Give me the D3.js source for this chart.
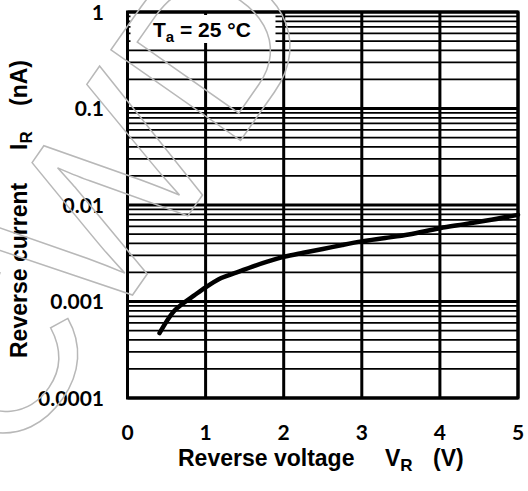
<!DOCTYPE html>
<html><head><meta charset="utf-8">
<script src="https://cdn.jsdelivr.net/npm/d3@7"></script>
<style>body{margin:0;background:#fff}svg{display:block}</style>
</head><body><svg id="c" width="528" height="491"></svg>
<script>
const voltage = [0.41, 0.5, 0.6, 0.7, 0.85, 1.0, 1.2, 1.4, 1.6, 1.8, 2.0, 2.25, 2.5, 2.75, 3.0, 3.3, 3.6, 4.0, 4.3, 4.6, 5.0];
const current = [0.00047, 0.00062, 0.00080, 0.00094, 0.00115, 0.00140, 0.00175, 0.00200, 0.00230, 0.00260, 0.00290, 0.00320, 0.00350, 0.00385, 0.00420, 0.00455, 0.00495, 0.00575, 0.00630, 0.00690, 0.00790];
const xTicks = [0, 1, 2, 3, 4, 5];
const yTicks = [0.0001, 0.001, 0.01, 0.1, 1];
const yTickLabels = ["0.0001", "0.001", "0.01", "0.1", "1"];

const svg = d3.select("#c");
const L = 127.5, R = 518, T = 12, B = 398;
const x = d3.scaleLinear().domain([0, 5]).range([L, R]);
const y = d3.scaleLog().domain([1e-4, 1]).range([B, T]);

// minor grid
const minors = [];
for (let d = -4; d < 0; d++) for (let k = 2; k <= 9; k++) minors.push(k * Math.pow(10, d));
const g = svg.append("g");
g.selectAll("line.minor").data(minors).join("line")
  .attr("x1", L).attr("x2", R).attr("y1", d => y(d)).attr("y2", d => y(d))
  .attr("stroke", "#000").attr("stroke-width", 1.7);
g.selectAll("line.major").data(yTicks).join("line")
  .attr("x1", L).attr("x2", R).attr("y1", d => y(d)).attr("y2", d => y(d))
  .attr("stroke", "#000").attr("stroke-width", 3);
g.selectAll("line.v").data(xTicks).join("line")
  .attr("x1", d => x(d)).attr("x2", d => x(d)).attr("y1", T).attr("y2", B)
  .attr("stroke", "#000").attr("stroke-width", 3);

// label box
svg.append("rect").attr("x", L + 3).attr("y", T + 3).attr("width", 145).attr("height", 28).attr("fill", "#fff");
const tl = svg.append("text").attr("x", 153).attr("y", 37)
  .attr("font-family", "Liberation Sans, Arial, sans-serif").attr("font-weight", "bold").attr("font-size", 21);
tl.append("tspan").text("T");
tl.append("tspan").attr("font-size", 15).attr("dy", 5).text("a");
tl.append("tspan").attr("dy", -5).text(" = 25 °C");

// border
svg.append("rect").attr("x", L).attr("y", T).attr("width", R - L).attr("height", B - T)
  .attr("fill", "none").attr("stroke", "#000").attr("stroke-width", 3);

// curve
const line = d3.line().x((d, i) => x(voltage[i])).y((d, i) => y(current[i])).curve(d3.curveMonotoneX);
svg.append("path").datum(current).attr("d", line).attr("fill", "none")
  .attr("stroke", "#000").attr("stroke-width", 4.5).attr("stroke-linecap", "round");

// tick labels
svg.append("g").selectAll("text").data(yTicks).join("text")
  .attr("x", 104).attr("y", d => y(d)).attr("dy", "0.36em").attr("text-anchor", "end")
  .attr("font-family", "Lato, sans-serif").attr("font-weight", "bold").attr("font-size", 21)
  .text((d, i) => yTickLabels[i]);
svg.append("g").selectAll("text").data(xTicks).join("text")
  .attr("x", d => x(d)).attr("y", 440).attr("text-anchor", "middle")
  .attr("font-family", "Lato, sans-serif").attr("font-weight", "bold").attr("font-size", 21)
  .text(d => d);

// axis titles
const xt = svg.append("text").attr("x", 178).attr("y", 466)
  .attr("font-family", "Liberation Sans, Arial, sans-serif").attr("font-weight", "bold").attr("font-size", 23);
xt.append("tspan").text("Reverse voltage");
xt.append("tspan").attr("x", 385).text("V");
xt.append("tspan").attr("font-size", 17).attr("dy", 5).text("R");
xt.append("tspan").attr("x", 433).attr("dy", -5).text("(V)");

const yt = svg.append("text").attr("transform", "translate(27,358) rotate(-90)")
  .attr("font-family", "Liberation Sans, Arial, sans-serif").attr("font-weight", "bold").attr("font-size", 23);
yt.append("tspan").text("Reverse current");
yt.append("tspan").attr("x", 208).text("I");
yt.append("tspan").attr("font-size", 17).attr("dy", 5).text("R");
yt.append("tspan").attr("x", 252).attr("dy", -5).text("(nA)");

// watermark
svg.append("text").attr("transform", "translate(10,470) rotate(-55)")
  .attr("font-family", "Liberation Sans, Arial, sans-serif").attr("font-size", 230)
  .attr("fill", "none").attr("stroke", "#b8b8b8").attr("stroke-width", 1.5)
  .text("CWDes");
</script></body></html>
